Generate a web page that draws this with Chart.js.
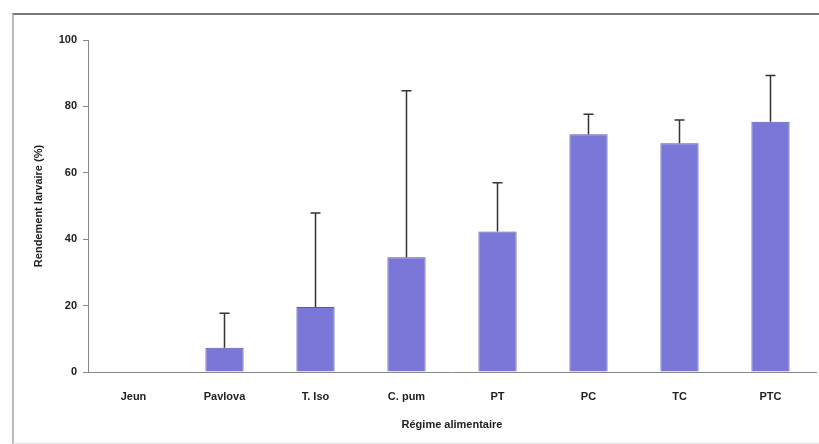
<!DOCTYPE html>
<html>
<head>
<meta charset="utf-8">
<script src="https://cdn.jsdelivr.net/npm/chart.js@4.4.1/dist/chart.umd.min.js"></script>
<style>
  html, body { margin: 0; padding: 0; background: #fff; }
  #wrap { position: relative; width: 819px; height: 444px; }
  #chart { position: absolute; left: 0; top: 0; }
  #frame {
    position: absolute; left: 12px; top: 13px; width: 807px; height: 428px;
    border-top: 2px solid #777; border-left: 2px solid #bbb; border-bottom: 1px solid #e2e2e2;
    pointer-events: none;
  }
</style>
</head>
<body>
<div id="wrap">
  <canvas id="chart" width="819" height="444"></canvas>
  <div id="frame"></div>
</div>
<script>
// Data
const categories = ['Jeun', 'Pavlova', 'T. Iso', 'C. pum', 'PT', 'PC', 'TC', 'PTC'];
const means = [0, 7.3, 19.6, 34.6, 42.3, 71.6, 68.9, 75.4];
const upperErrors = [0, 10.4, 28.3, 50.1, 14.7, 6.0, 7.0, 13.9];
const yTicks = [0, 20, 40, 60, 80, 100];

// draws the upper error bars through the y scale
const errorBars = {
  id: 'errorBars',
  afterDatasetsDraw(chart) {
    const ctx = chart.ctx;
    const meta = chart.getDatasetMeta(0);
    const y = chart.scales.y;
    ctx.save();
    ctx.strokeStyle = '#333';
    ctx.lineWidth = 1.5;
    meta.data.forEach((bar, i) => {
      if (!upperErrors[i]) return;
      const top = y.getPixelForValue(means[i] + upperErrors[i]);
      ctx.beginPath();
      ctx.moveTo(bar.x, bar.y);
      ctx.lineTo(bar.x, top);
      ctx.moveTo(bar.x - 5, top);
      ctx.lineTo(bar.x + 5, top);
      ctx.stroke();
    });
    ctx.restore();
  }
};

const tickFont = { family: 'Liberation Sans, Arial, sans-serif', size: 11, weight: 'bold' };

new Chart(document.getElementById('chart'), {
  type: 'bar',
  data: {
    labels: categories,
    datasets: [{
      data: means,
      backgroundColor: '#7b77d8',
      borderColor: '#5a56b0',
      borderWidth: 1,
      barPercentage: 0.42,
      categoryPercentage: 1
    }]
  },
  options: {
    responsive: false,
    animation: false,
    layout: { padding: { left: 0, top: 40, right: 3, bottom: 0 } },
    plugins: {
      legend: { display: false },
      tooltip: { enabled: false }
    },
    scales: {
      x: {
        grid: { display: false },
        border: { display: true, color: '#888', width: 1 },
        ticks: { font: tickFont, color: '#222', padding: 10 },
        title: {
          display: true,
          text: 'Régime alimentaire',
          font: tickFont,
          color: '#222',
          padding: { top: 0, bottom: 12 }
        },
        afterFit: s => { s.height = 72; }
      },
      y: {
        min: 0,
        max: 100,
        afterBuildTicks: s => { s.ticks = yTicks.map(v => ({ value: v })); },
        grid: { drawOnChartArea: false, drawTicks: true, tickLength: 5, color: '#888' },
        border: { display: true, color: '#888', width: 1 },
        ticks: { font: tickFont, color: '#222', padding: 6 },
        title: {
          display: true,
          text: 'Rendement larvaire (%)',
          font: tickFont,
          color: '#222',
          padding: { top: 32, bottom: 0 }
        },
        afterFit: s => { s.width = 88; }
      }
    }
  },
  plugins: [errorBars]
});
</script>
</body>
</html>
